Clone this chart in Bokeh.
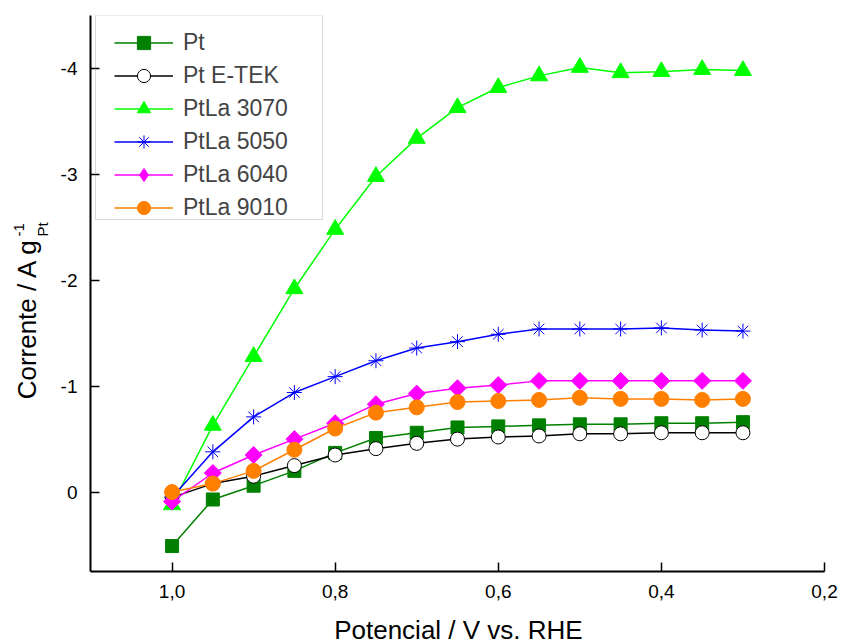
import math
from bokeh.plotting import figure
from bokeh.layouts import row, column
from bokeh.core.properties import value
from bokeh.models import (Range1d, FixedTicker, CustomJSTickFormatter, Legend,
                          LegendItem, BoxAnnotation)
from bokeh.embed import file_html
from bokeh.resources import INLINE

# ---------------- data ----------------
potential = [1.0, 0.95, 0.9, 0.85, 0.8, 0.75, 0.7, 0.65, 0.6, 0.55, 0.5, 0.45, 0.4, 0.35, 0.3]

pt = [0.51, 0.07, -0.06, -0.20, -0.37, -0.51, -0.56, -0.61, -0.62, -0.63, -0.64, -0.64, -0.65, -0.65, -0.66]
pt_etek = [0.05, -0.08, -0.15, -0.25, -0.35, -0.41, -0.46, -0.50, -0.52, -0.53, -0.55, -0.55, -0.56, -0.56, -0.56]
ptla_3070 = [0.12, -0.63, -1.28, -1.92, -2.48, -2.98, -3.34, -3.63, -3.82, -3.93, -4.01, -3.96, -3.97, -3.99, -3.98]
ptla_5050 = [0.05, -0.38, -0.71, -0.94, -1.09, -1.24, -1.36, -1.42, -1.49, -1.54, -1.54, -1.54, -1.55, -1.53, -1.52]
ptla_6040 = [0.09, -0.18, -0.35, -0.50, -0.65, -0.83, -0.93, -0.98, -1.01, -1.05, -1.05, -1.05, -1.05, -1.05, -1.05]
ptla_9010 = [0.00, -0.08, -0.20, -0.40, -0.60, -0.75, -0.80, -0.85, -0.86, -0.87, -0.89, -0.88, -0.88, -0.87, -0.88]

series_labels = ["Pt", "Pt E-TEK", "PtLa 3070", "PtLa 5050", "PtLa 6040", "PtLa 9010"]
series_values = [pt, pt_etek, ptla_3070, ptla_5050, ptla_6040, ptla_9010]

x_ticks = [1.0, 0.8, 0.6, 0.4, 0.2]
y_ticks = [-4, -3, -2, -1, 0]

x_title = "Potencial / V vs. RHE"
y_title = "Corrente / A g"
y_title_sub = "Pt"
y_title_sup = "-1"

# ---------------- styles / layout ----------------
FONT = "Liberation Sans"
W, H = 842, 644
LEFT_W = 50          # strip holding the y title
BOTTOM_H = 33        # strip holding the x title
MAIN_W, MAIN_H = W - LEFT_W, H - BOTTOM_H

styles = [
    dict(color="#008000", marker="square", size=13, fill="#008000", angle=0.0, legend_marker=None),
    dict(color="#000000", marker="circle", size=14, fill="#FFFFFF", angle=0.0, legend_marker=None),
    dict(color="#00FF00", marker="triangle", size=17, fill="#00FF00", angle=0.0, legend_marker=None),
    dict(color="#0000FF", marker="asterisk", size=15, fill="#0000FF", angle=0.0, legend_marker=None),
    dict(color="#FF00FF", marker="square", size=12, fill="#FF00FF", angle=math.pi / 4, legend_marker="diamond"),
    dict(color="#FF8000", marker="circle", size=15, fill="#FF8000", angle=0.0, legend_marker=None),
]

p = figure(width=MAIN_W, height=MAIN_H, output_backend="svg", toolbar_location=None,
           x_range=Range1d(1.1, 0.2), y_range=Range1d(0.75, -4.5),
           min_border_left=40, min_border_right=18, min_border_top=15, min_border_bottom=40)
p.grid.visible = False
p.outline_line_color = None
p.background_fill_color = "white"
p.border_fill_color = "white"

items = []
for label, vals, st in zip(series_labels, series_values, styles):
    lr = p.line(potential, vals, line_color=st["color"], line_width=1.5)
    sr = p.scatter(potential, vals, marker=st["marker"], size=st["size"], angle=st["angle"],
                   fill_color=st["fill"], line_color=st["color"], line_width=1)
    if st["legend_marker"] is not None:
        # legend-only proxy (NaN position, never drawn in the plot area)
        proxy = p.scatter([float("nan")], [float("nan")], marker=st["legend_marker"],
                          fill_color=st["fill"], line_color=st["color"], size=st["size"])
        items.append(LegendItem(label=label, renderers=[lr, proxy]))
    else:
        items.append(LegendItem(label=label, renderers=[lr, sr]))

legend = Legend(items=items, location=(24, 347), padding=0, spacing=0,
                glyph_height=33, label_height=33, glyph_width=59, label_standoff=10,
                label_text_font=FONT, label_text_font_size="23px",
                border_line_alpha=0, background_fill_alpha=0, margin=0)
p.add_layout(legend, "center")

p.add_layout(BoxAnnotation(left=45, right=272, top=15, bottom=219,
                           left_units="canvas", right_units="canvas",
                           top_units="canvas", bottom_units="canvas",
                           fill_alpha=0, line_color="#808080", line_width=1))

for ax in (p.xaxis[0], p.yaxis[0]):
    ax.axis_line_width = 2
    ax.axis_line_color = "black"
    ax.major_tick_line_width = 1.5
    ax.major_tick_line_color = "black"
    ax.major_tick_in = 9
    ax.major_tick_out = 0
    ax.minor_tick_line_color = None
    ax.major_label_text_font = FONT
    ax.major_label_text_font_size = "19px"
    ax.major_label_text_color = "black"
    ax.major_label_standoff = 13

p.xaxis[0].ticker = FixedTicker(ticks=x_ticks)
p.xaxis[0].formatter = CustomJSTickFormatter(code="return tick.toFixed(1).replace('.', ',')")
p.yaxis[0].ticker = FixedTicker(ticks=y_ticks)
p.yaxis[0].formatter = CustomJSTickFormatter(code="return tick.toFixed(0)")

# ---- strips holding the axis titles (coordinates = pixels, y upward) ----
def text_strip(width, height):
    f = figure(width=width, height=height, output_backend="svg", toolbar_location=None,
               x_range=Range1d(0, width), y_range=Range1d(0, height),
               x_axis_type=None, y_axis_type=None, min_border=0)
    f.grid.visible = False
    f.outline_line_color = None
    f.background_fill_color = "white"
    f.border_fill_color = "white"
    return f

ys = text_strip(LEFT_W, H)
ys.text(x=[26], y=[H - 237], text=[y_title], angle=math.pi / 2, text_align="right",
        text_baseline="middle", text_font=value(FONT), text_font_size=value("26px"),
        text_color="black")
ys.text(x=[42], y=[H - 236], text=[y_title_sub], angle=math.pi / 2, text_align="left",
        text_baseline="middle", text_font=value(FONT), text_font_size=value("15px"),
        text_color="black")
ys.text(x=[18], y=[H - 236], text=[y_title_sup], angle=math.pi / 2, text_align="left",
        text_baseline="middle", text_font=value(FONT), text_font_size=value("15px"),
        text_color="black")

xs = text_strip(MAIN_W, BOTTOM_H)
xs.text(x=[397], y=[H - 629], text=[x_title], text_align="center",
        text_baseline="middle", text_font=value(FONT), text_font_size=value("26px"),
        text_color="black")

layout = row(ys, column(p, xs, spacing=0), spacing=0)

open("out.html", "w").write(file_html(layout, INLINE))
